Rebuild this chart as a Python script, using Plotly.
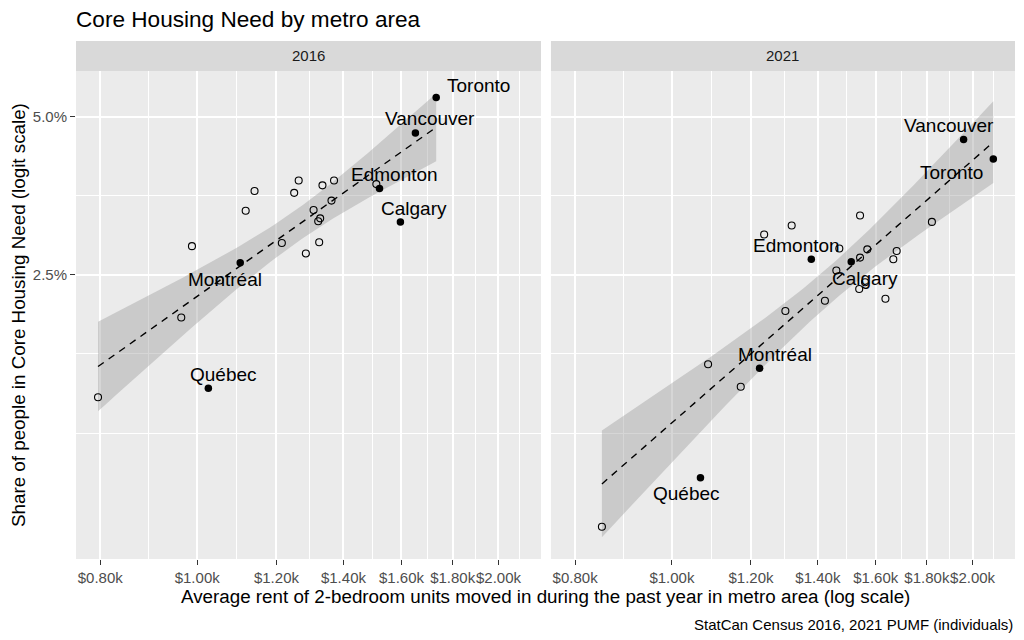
import numpy as np
import plotly.graph_objects as go

# ---------------- data ----------------
years = ["2016", "2021"]
named_cities = ["Toronto", "Vancouver", "Edmonton", "Calgary", "Montréal", "Québec"]

rent_named_2016 = [1733, 1652, 1521, 1596, 1104, 1026]
share_named_2016 = [5.43, 4.66, 3.66, 3.16, 2.64, 1.51]
rent_other_2016 = [796, 964, 988, 1118, 1141, 1250, 1263, 1334, 1370, 1362,
                   1307, 1327, 1321, 1215, 1284, 1324, 1510, 1053]
share_other_2016 = [1.45, 2.07, 2.84, 3.32, 3.62, 3.59, 3.79, 3.71, 3.79, 3.47,
                    3.33, 3.21, 3.17, 2.88, 2.75, 2.89, 3.73, 2.44]

rent_named_2021 = [2098, 1959, 1379, 1512, 1224, 1068]
share_named_2021 = [4.16, 4.53, 2.68, 2.65, 1.65, 1.01]
rent_other_2021 = [1237, 1318, 1543, 1821, 1471, 1569, 1543, 1679, 1666, 1461,
                   1561, 1540, 1636, 1423, 1299, 1087, 1172, 851]
share_other_2021 = [2.99, 3.11, 3.25, 3.16, 2.81, 2.80, 2.70, 2.78, 2.68, 2.55,
                    2.42, 2.35, 2.25, 2.23, 2.13, 1.68, 1.52, 0.81]

x_breaks = [800, 1000, 1200, 1400, 1600, 1800, 2000]
x_labels = ["$0.80k", "$1.00k", "$1.20k", "$1.40k", "$1.60k", "$1.80k", "$2.00k"]
y_breaks = [2.5, 5.0]
y_labels = ["2.5%", "5.0%"]
y_minor_extra = [1.23, 1.76]

# label offsets in pixels (dx right, dy down) - layout only
label_offsets = {
    "2016": {"Toronto": (42, -12), "Vancouver": (15, -14), "Edmonton": (15, -14),
             "Calgary": (14, -13), "Montréal": (-15, 17), "Québec": (15, -14)},
    "2021": {"Toronto": (-42, 13), "Vancouver": (-15, -14), "Edmonton": (-15, -14),
             "Calgary": (14, 17), "Montréal": (15, -14), "Québec": (-14, 16)},
}

data = {
    "2016": (rent_named_2016, share_named_2016, rent_other_2016, share_other_2016),
    "2021": (rent_named_2021, share_named_2021, rent_other_2021, share_other_2021),
}


def logit(p_pct):
    p = np.asarray(p_pct, dtype=float) / 100.0
    return np.log(p / (1 - p))


FONT = "Liberation Sans, Arial, Helvetica, sans-serif"
T_975_DF22 = 2.0739

fig = go.Figure()
axis_ids = [("x", "y"), ("x2", "y2")]

for (xa, ya), yr in zip(axis_ids, years):
    rn, sn, ro, so = data[yr]
    rent_all = np.array(rn + ro, dtype=float)
    share_all = np.array(sn + so, dtype=float)
    X = np.log10(rent_all)
    Y = logit(share_all)
    n = len(X)
    b1, b0 = np.polyfit(X, Y, 1)
    resid = Y - (b0 + b1 * X)
    s = np.sqrt(np.sum(resid ** 2) / (n - 2))
    xbar = X.mean()
    sxx = np.sum((X - xbar) ** 2)
    xs = np.linspace(X.min(), X.max(), 80)
    fit = b0 + b1 * xs
    se = s * np.sqrt(1.0 / n + (xs - xbar) ** 2 / sxx)
    up = fit + T_975_DF22 * se
    lo = fit - T_975_DF22 * se

    fig.add_trace(go.Scatter(
        x=np.concatenate([10 ** xs, 10 ** xs[::-1]]),
        y=np.concatenate([up, lo[::-1]]),
        fill="toself", fillcolor="rgba(153,153,153,0.4)",
        line=dict(width=0), mode="lines", hoverinfo="skip",
        xaxis=xa, yaxis=ya, showlegend=False))
    fig.add_trace(go.Scatter(
        x=10 ** xs, y=fit, mode="lines",
        line=dict(color="black", width=1.4, dash="7px,6px"),
        xaxis=xa, yaxis=ya, showlegend=False))
    fig.add_trace(go.Scatter(
        x=ro, y=logit(so), mode="markers",
        marker=dict(symbol="circle-open", size=7, color="black",
                    line=dict(width=1.1, color="black")),
        xaxis=xa, yaxis=ya, showlegend=False))
    fig.add_trace(go.Scatter(
        x=rn, y=logit(sn), mode="markers",
        marker=dict(symbol="circle", size=7.5, color="black"),
        xaxis=xa, yaxis=ya, showlegend=False))

    for city, r, sh in zip(named_cities, rn, sn):
        dx, dy = label_offsets[yr][city]
        fig.add_annotation(
            x=np.log10(r), y=float(logit([sh])[0]), xref=xa, yref=ya,
            text=city, showarrow=False, xshift=dx, yshift=-dy,
            xanchor="center", yanchor="middle",
            font=dict(family=FONT, size=19, color="black"))

    # strip
    fig.add_shape(type="rect", xref=f"{xa} domain", yref=f"{ya} domain",
                  x0=0, x1=1, y0=1, y1=1 + 30 / 488,
                  fillcolor="#D9D9D9", line=dict(width=0), layer="below")
    fig.add_annotation(xref=f"{xa} domain", yref=f"{ya} domain",
                       x=0.5, y=1 + 15 / 488, text=yr, showarrow=False,
                       xanchor="center", yanchor="middle",
                       font=dict(family=FONT, size=15, color="#1A1A1A"))

x_minor = [float(np.sqrt(a * b)) for a, b in zip(x_breaks, x_breaks[1:] + [2200])]
y_major_logit = [float(v) for v in logit(y_breaks)]
y_minor_logit = [sum(y_major_logit) / 2] + [float(v) for v in logit(y_minor_extra)]

xcommon = dict(
    type="log", range=[2.8789, 3.3435],
    tickmode="array", tickvals=x_breaks, ticktext=x_labels, tickangle=0,
    ticks="outside", ticklen=5, tickwidth=1.1, tickcolor="#333333",
    tickfont=dict(family=FONT, size=15, color="#4D4D4D"),
    showgrid=True, gridcolor="white", gridwidth=1.6,
    minor=dict(tickmode="array", tickvals=x_minor, showgrid=True,
               gridcolor="white", gridwidth=0.8, ticks=""),
    zeroline=False, showline=False, automargin=False,
)
ycommon = dict(
    range=[-4.954, -2.7368],
    tickmode="array", tickvals=y_major_logit, ticktext=y_labels,
    ticklen=5, tickwidth=1.1, tickcolor="#333333",
    tickfont=dict(family=FONT, size=15, color="#4D4D4D"),
    showgrid=True, gridcolor="white", gridwidth=1.6,
    minor=dict(tickmode="array", tickvals=y_minor_logit,
               showgrid=True, gridcolor="white", gridwidth=0.8, ticks=""),
    zeroline=False, showline=False, automargin=False,
)

# the page body adds an 8px offset, so the figure is 8px smaller on each side
fig.update_layout(
    width=1016, height=632,
    margin=dict(l=68, r=9, t=63, b=81),
    paper_bgcolor="white", plot_bgcolor="#EBEBEB",
    xaxis=dict(domain=[0, 0.4952], anchor="y", **xcommon),
    xaxis2=dict(domain=[0.5058, 1], anchor="y2", **xcommon),
    yaxis=dict(domain=[0, 1], anchor="x", ticks="outside", **ycommon),
    yaxis2=dict(domain=[0, 1], anchor="x2", matches="y", ticks="",
                showticklabels=False, **ycommon),
    showlegend=False,
)

# titles and caption
fig.add_annotation(xref="paper", yref="paper", x=-0.001, y=(559 - 19.5) / 488,
                   text="Core Housing Need by metro area", showarrow=False,
                   xanchor="left", yanchor="middle", borderpad=0,
                   font=dict(family=FONT, size=22.6, color="black"))
fig.add_annotation(xref="paper", yref="paper", x=0.5, y=(559 - 596) / 488,
                   text="Average rent of 2-bedroom units moved in during the past year in metro area (log scale)",
                   showarrow=False, xanchor="center", yanchor="middle",
                   font=dict(family=FONT, size=18.8, color="black"))
fig.add_annotation(xref="paper", yref="paper", x=(18 - 76) / 939, y=0.5,
                   text="Share of people in Core Housing Need (logit scale)",
                   showarrow=False, textangle=-90, xanchor="center", yanchor="middle",
                   font=dict(family=FONT, size=18.8, color="black"))
fig.add_annotation(xref="paper", yref="paper", x=1, y=(559 - 624) / 488,
                   text="StatCan Census 2016, 2021 PUMF (individuals)",
                   showarrow=False, xanchor="right", yanchor="middle",
                   font=dict(family=FONT, size=15, color="black"))

fig.write_html("out.html")
